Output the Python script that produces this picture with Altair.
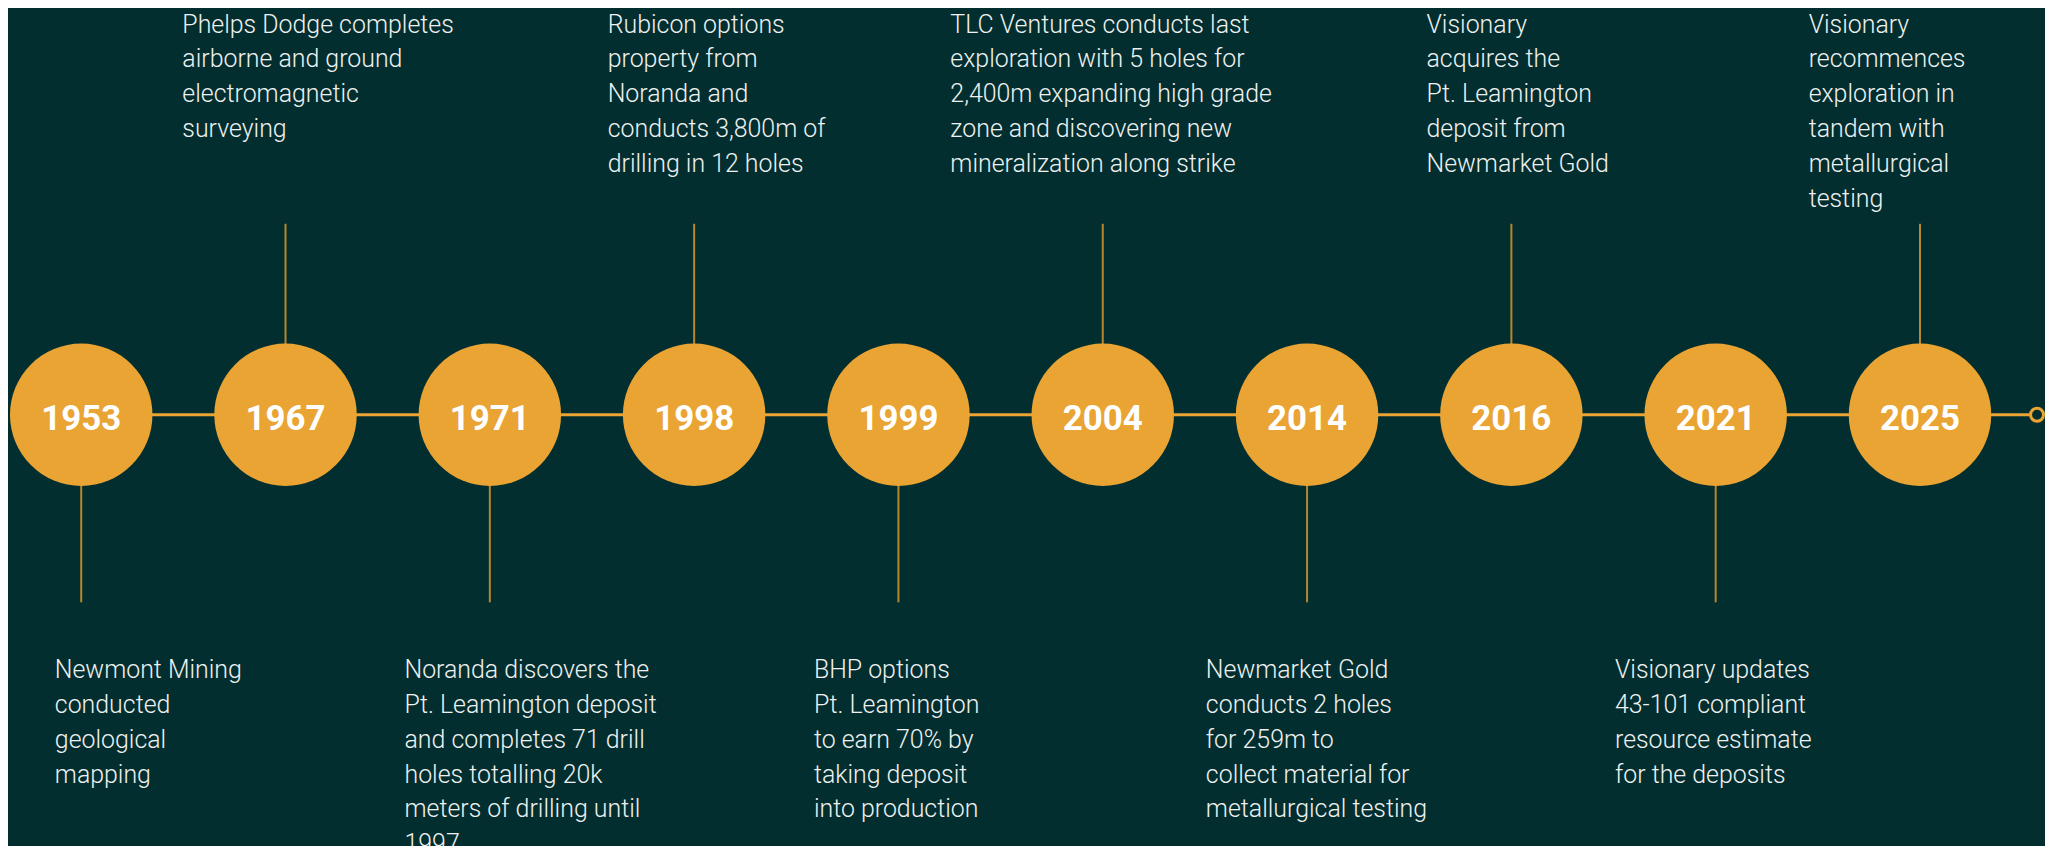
import altair as alt
import pandas as pd

# ---------------- data ----------------
years = ["1953", "1967", "1971", "1998", "1999", "2004", "2014", "2016", "2021", "2025"]
sides = ["below", "above", "below", "above", "below", "above", "below", "above", "below", "above"]
descriptions = [
    "Newmont Mining\nconducted\ngeological\nmapping",
    "Phelps Dodge completes\nairborne and ground\nelectromagnetic\nsurveying",
    "Noranda discovers the\nPt. Leamington deposit\nand completes 71 drill\nholes totalling 20k\nmeters of drilling until\n1997",
    "Rubicon options\nproperty from\nNoranda and\nconducts 3,800m of\ndrilling in 12 holes",
    "BHP options\nPt. Leamington\nto earn 70% by\ntaking deposit\ninto production",
    "TLC Ventures conducts last\nexploration with 5 holes for\n2,400m expanding high grade\nzone and discovering new\nmineralization along strike",
    "Newmarket Gold\nconducts 2 holes\nfor 259m to\ncollect material for\nmetallurgical testing",
    "Visionary\nacquires the\nPt. Leamington\ndeposit from\nNewmarket Gold",
    "Visionary updates\n43-101 compliant\nresource estimate\nfor the deposits",
    "Visionary\nrecommences\nexploration in\ntandem with\nmetallurgical\ntesting",
]

# ---------------- layout / style ----------------
W, H = 2045, 838
X0, X1 = 73.5, 1919.5           # pixel centres of first / last milestone
STEP = (X1 - X0) / (len(years) - 1)
CY = 406.7                      # timeline y
D = 143                         # milestone circle diameter
END_X = 2037                    # end ring x
UP_TOP, LOW_BOT = 215, 595      # connector extents
UP_TEXT_Y, LOW_TEXT_Y = 23, 671 # first-line baselines
LABEL_DX = [-26.5, -103.6, -85.7, -86.8, -84.9, -153, -101.6, -85.2, -101.1, -111.8]

BG = "#032e2f"
GOLD = "#e9a434"
CONNECT = "#b8862f"
TXT = "#eef1ef"

df = pd.DataFrame({
    "idx": list(range(len(years))),
    "year": years,
    "side": sides,
    "desc": descriptions,
})
df["tx"] = df["idx"] + pd.Series(LABEL_DX) / STEP

xscale = alt.Scale(domain=[0, len(years) - 1], range=[X0, X1])
X = alt.X("idx:Q", scale=xscale, axis=None)

base = alt.Chart(df)

hline = alt.Chart(pd.DataFrame({"start": [0]})).mark_rule(
    color=GOLD, strokeWidth=3
).encode(
    x=alt.X("start:Q", scale=xscale, axis=None),
    x2=alt.value(END_X),
    y=alt.value(CY),
)

ring = alt.Chart(pd.DataFrame({"start": [0]})).mark_point(
    shape="circle", size=13 ** 2, fill=BG, stroke=GOLD,
    strokeWidth=3, opacity=1, fillOpacity=1, strokeOpacity=1
).encode(x=alt.value(END_X), y=alt.value(CY))

conn_up = base.transform_filter(alt.datum.side == "above").mark_rule(
    color=CONNECT, strokeWidth=2
).encode(x=X, y=alt.value(UP_TOP), y2=alt.value(CY))

conn_low = base.transform_filter(alt.datum.side == "below").mark_rule(
    color=CONNECT, strokeWidth=2
).encode(x=X, y=alt.value(CY), y2=alt.value(LOW_BOT))

circles = base.mark_circle(
    size=D ** 2, color=GOLD, opacity=1
).encode(x=X, y=alt.value(CY))

year_txt = base.mark_text(
    font="Roboto", fontSize=35, fontWeight="bold", color="#ffffff",
    align="center", baseline="alphabetic"
).encode(x=X, y=alt.value(CY + 15.3), text="year:N")

TX = alt.X("tx:Q", scale=xscale, axis=None)
desc_style = dict(
    font="Roboto", fontSize=25, fontWeight=300, color=TXT,
    align="left", baseline="alphabetic", lineBreak="\n", lineHeight=35
)
desc_up = base.transform_filter(alt.datum.side == "above").mark_text(
    **desc_style
).encode(x=TX, y=alt.value(UP_TEXT_Y), text="desc:N")

desc_low = base.transform_filter(alt.datum.side == "below").mark_text(
    **desc_style
).encode(x=TX, y=alt.value(LOW_TEXT_Y), text="desc:N")

chart = alt.layer(
    hline, conn_up, conn_low, circles, ring, year_txt, desc_up, desc_low
).properties(
    width=W, height=H, padding=0,
    autosize=alt.AutoSizeParams(type="none"),
    background=BG,
).configure_view(stroke=None)

chart.save("out.html", embed_options={"renderer": "svg", "actions": False})
